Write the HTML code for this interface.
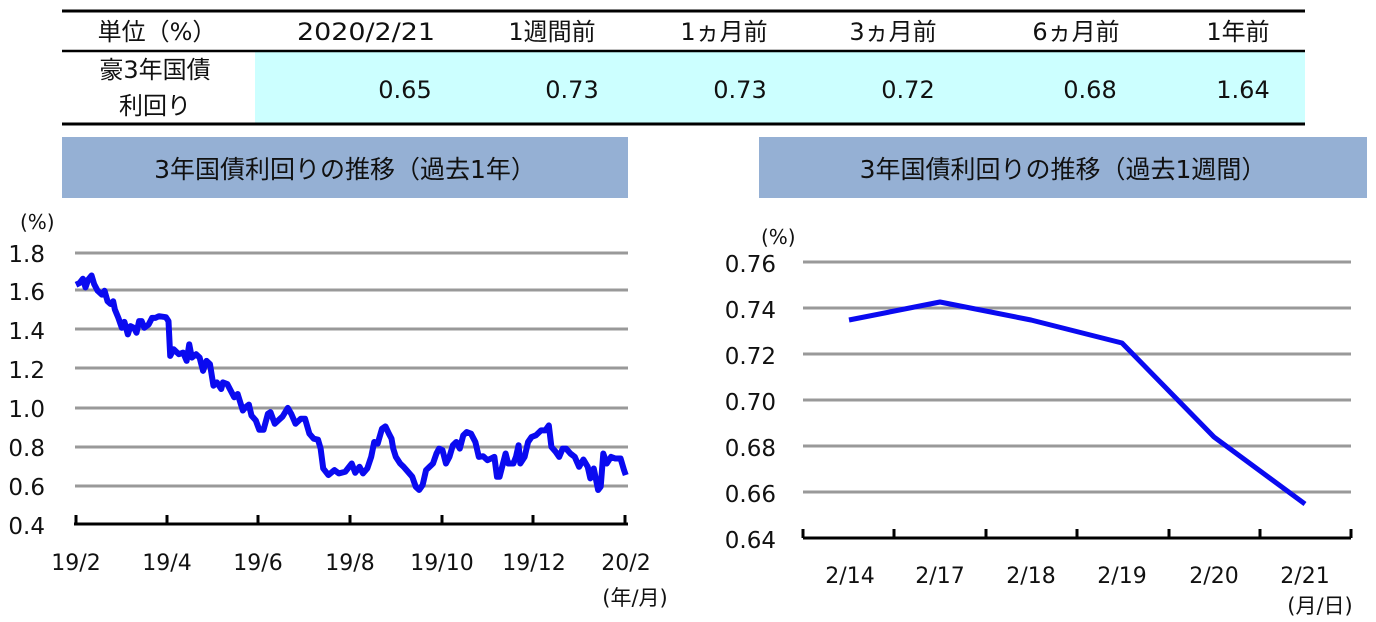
<!DOCTYPE html>
<html><head><meta charset="utf-8"><style>
body{margin:0;background:#fff;width:1376px;height:622px;overflow:hidden}
svg{display:block}
text{font-family:"DejaVu Sans","Noto Sans CJK JP",sans-serif;fill:#111}
</style></head><body>
<svg width="1376" height="622" viewBox="0 0 1376 622">
<rect x="255" y="52" width="1050" height="72" fill="#ccffff"/>
<line x1="62" y1="11" x2="1305" y2="11" stroke="#000" stroke-width="3"/>
<line x1="62" y1="51" x2="1305" y2="51" stroke="#000" stroke-width="2.5"/>
<line x1="62" y1="124" x2="1305" y2="124" stroke="#000" stroke-width="3"/>
<g font-size="24" text-anchor="middle">
<text x="157" y="40">単位（%）</text>
<text x="366" y="40" textLength="138" lengthAdjust="spacingAndGlyphs">2020/2/21</text>
<text x="552" y="40">1週間前</text>
<text x="724" y="40">1ヵ月前</text>
<text x="893" y="40">3ヵ月前</text>
<text x="1076" y="40">6ヵ月前</text>
<text x="1238" y="40">1年前</text>
<text x="155" y="78">豪3年国債</text>
<text x="155" y="114">利回り</text>
<text x="405" y="98">0.65</text>
<text x="572" y="98">0.73</text>
<text x="740" y="98">0.73</text>
<text x="908" y="98">0.72</text>
<text x="1090" y="98">0.68</text>
<text x="1243" y="98">1.64</text>
</g>
<rect x="62" y="137" width="566" height="61" fill="#95b0d4"/>
<rect x="759" y="137" width="608" height="61" fill="#95b0d4"/>
<text x="345" y="178" font-size="25" text-anchor="middle">3年国債利回りの推移（過去1年）</text>
<text x="1063" y="178" font-size="25" text-anchor="middle">3年国債利回りの推移（過去1週間）</text>
<g stroke="#999" stroke-width="3">
<line x1="75" y1="253" x2="628" y2="253"/><line x1="75" y1="290" x2="628" y2="290"/>
<line x1="75" y1="329" x2="628" y2="329"/><line x1="75" y1="368" x2="628" y2="368"/>
<line x1="75" y1="408" x2="628" y2="408"/><line x1="75" y1="447" x2="628" y2="447"/>
<line x1="75" y1="486" x2="628" y2="486"/>
</g>
<g stroke="#000" stroke-width="3">
<line x1="74" y1="524" x2="628" y2="524"/>
<line x1="76" y1="515" x2="76" y2="524"/><line x1="167" y1="515" x2="167" y2="524"/>
<line x1="258" y1="515" x2="258" y2="524"/><line x1="350" y1="515" x2="350" y2="524"/>
<line x1="442" y1="515" x2="442" y2="524"/><line x1="533" y1="515" x2="533" y2="524"/>
<line x1="625" y1="515" x2="625" y2="524"/>
</g>
<g font-size="23" text-anchor="end">
<text x="45" y="262">1.8</text><text x="45" y="300">1.6</text><text x="45" y="339">1.4</text>
<text x="45" y="378">1.2</text><text x="45" y="417">1.0</text><text x="45" y="456">0.8</text>
<text x="45" y="495">0.6</text><text x="45" y="534">0.4</text>
</g>
<text x="20" y="229" font-size="20">(%)</text>
<g font-size="22" text-anchor="middle">
<text x="76" y="570">19/2</text><text x="167" y="570">19/4</text><text x="258" y="570">19/6</text>
<text x="350" y="570">19/8</text><text x="442" y="570">19/10</text><text x="534" y="570">19/12</text>
<text x="626" y="570">20/2</text>
</g>
<text x="635" y="605" font-size="21" text-anchor="middle">(年/月)</text>
<g transform="matrix(0.4322 0 0 0.331 1.66 202)">
<polyline fill="none" stroke="#0a0af0" stroke-width="6" vector-effect="non-scaling-stroke" stroke-linejoin="round" points="172,250 180,245 188,232 194,258 200,235 208,222 214,248 222,268 232,280 238,268 245,300 252,308 258,300 262,325 270,350 278,380 284,362 292,400 298,375 306,380 312,395 318,360 324,360 330,380 340,370 348,350 356,350 364,345 380,348 386,360 390,465 398,445 410,460 420,455 428,480 434,430 440,470 450,460 458,470 466,510 474,480 482,490 490,555 498,545 508,565 512,545 522,550 530,570 538,590 546,580 558,630 564,620 572,612 578,645 588,660 596,688 606,688 616,640 622,635 632,670 640,660 650,648 662,622 670,640 680,670 692,655 702,655 712,700 722,715 732,718 738,745 744,805 756,825 770,810 780,820 795,815 810,790 818,818 828,800 836,820 846,805 855,770 862,725 870,730 880,685 888,678 896,700 902,715 906,745 912,770 922,790 930,800 940,815 950,830 958,860 966,870 974,855 982,810 990,800 998,790 1006,760 1012,745 1020,750 1028,790 1036,770 1044,735 1052,725 1060,745 1068,705 1076,695 1086,700 1096,725 1104,770 1114,768 1124,780 1132,775 1140,770 1146,830 1152,830 1158,800 1166,760 1172,790 1184,790 1190,770 1196,735 1200,790 1210,770 1218,725 1226,710 1236,705 1248,690 1258,690 1266,675 1272,740 1282,755 1290,770 1298,745 1306,745 1316,760 1326,770 1336,800 1346,778 1356,800 1362,835 1370,805 1380,870 1386,860 1392,760 1400,790 1410,770 1420,775 1432,775 1440,810 1444,825"/>
</g>
<g stroke="#999" stroke-width="3">
<line x1="803" y1="262" x2="1351" y2="262"/><line x1="803" y1="308" x2="1351" y2="308"/>
<line x1="803" y1="354" x2="1351" y2="354"/><line x1="803" y1="400" x2="1351" y2="400"/>
<line x1="803" y1="446" x2="1351" y2="446"/><line x1="803" y1="492" x2="1351" y2="492"/>
</g>
<g stroke="#000" stroke-width="3">
<line x1="803" y1="538" x2="1351" y2="538"/>
<line x1="803" y1="529" x2="803" y2="538"/><line x1="894" y1="529" x2="894" y2="538"/>
<line x1="986" y1="529" x2="986" y2="538"/><line x1="1077" y1="529" x2="1077" y2="538"/>
<line x1="1169" y1="529" x2="1169" y2="538"/><line x1="1260" y1="529" x2="1260" y2="538"/>
<line x1="1351" y1="529" x2="1351" y2="538"/>
</g>
<g font-size="23" text-anchor="end">
<text x="776" y="272">0.76</text><text x="776" y="318">0.74</text><text x="776" y="364">0.72</text>
<text x="776" y="410">0.70</text><text x="776" y="456">0.68</text><text x="776" y="502">0.66</text>
<text x="776" y="548">0.64</text>
</g>
<text x="761" y="244" font-size="20">(%)</text>
<g font-size="22" text-anchor="middle">
<text x="850" y="583">2/14</text><text x="940" y="583">2/17</text><text x="1031" y="583">2/18</text>
<text x="1122" y="583">2/19</text><text x="1214" y="583">2/20</text><text x="1305" y="583">2/21</text>
</g>
<text x="1320" y="613" font-size="21" text-anchor="middle">(月/日)</text>
<polyline fill="none" stroke="#0a0af0" stroke-width="5" stroke-linejoin="round" points="849,320 940,302 1031,320 1122,343 1214,437 1305,504"/>
</svg>
</body></html>
